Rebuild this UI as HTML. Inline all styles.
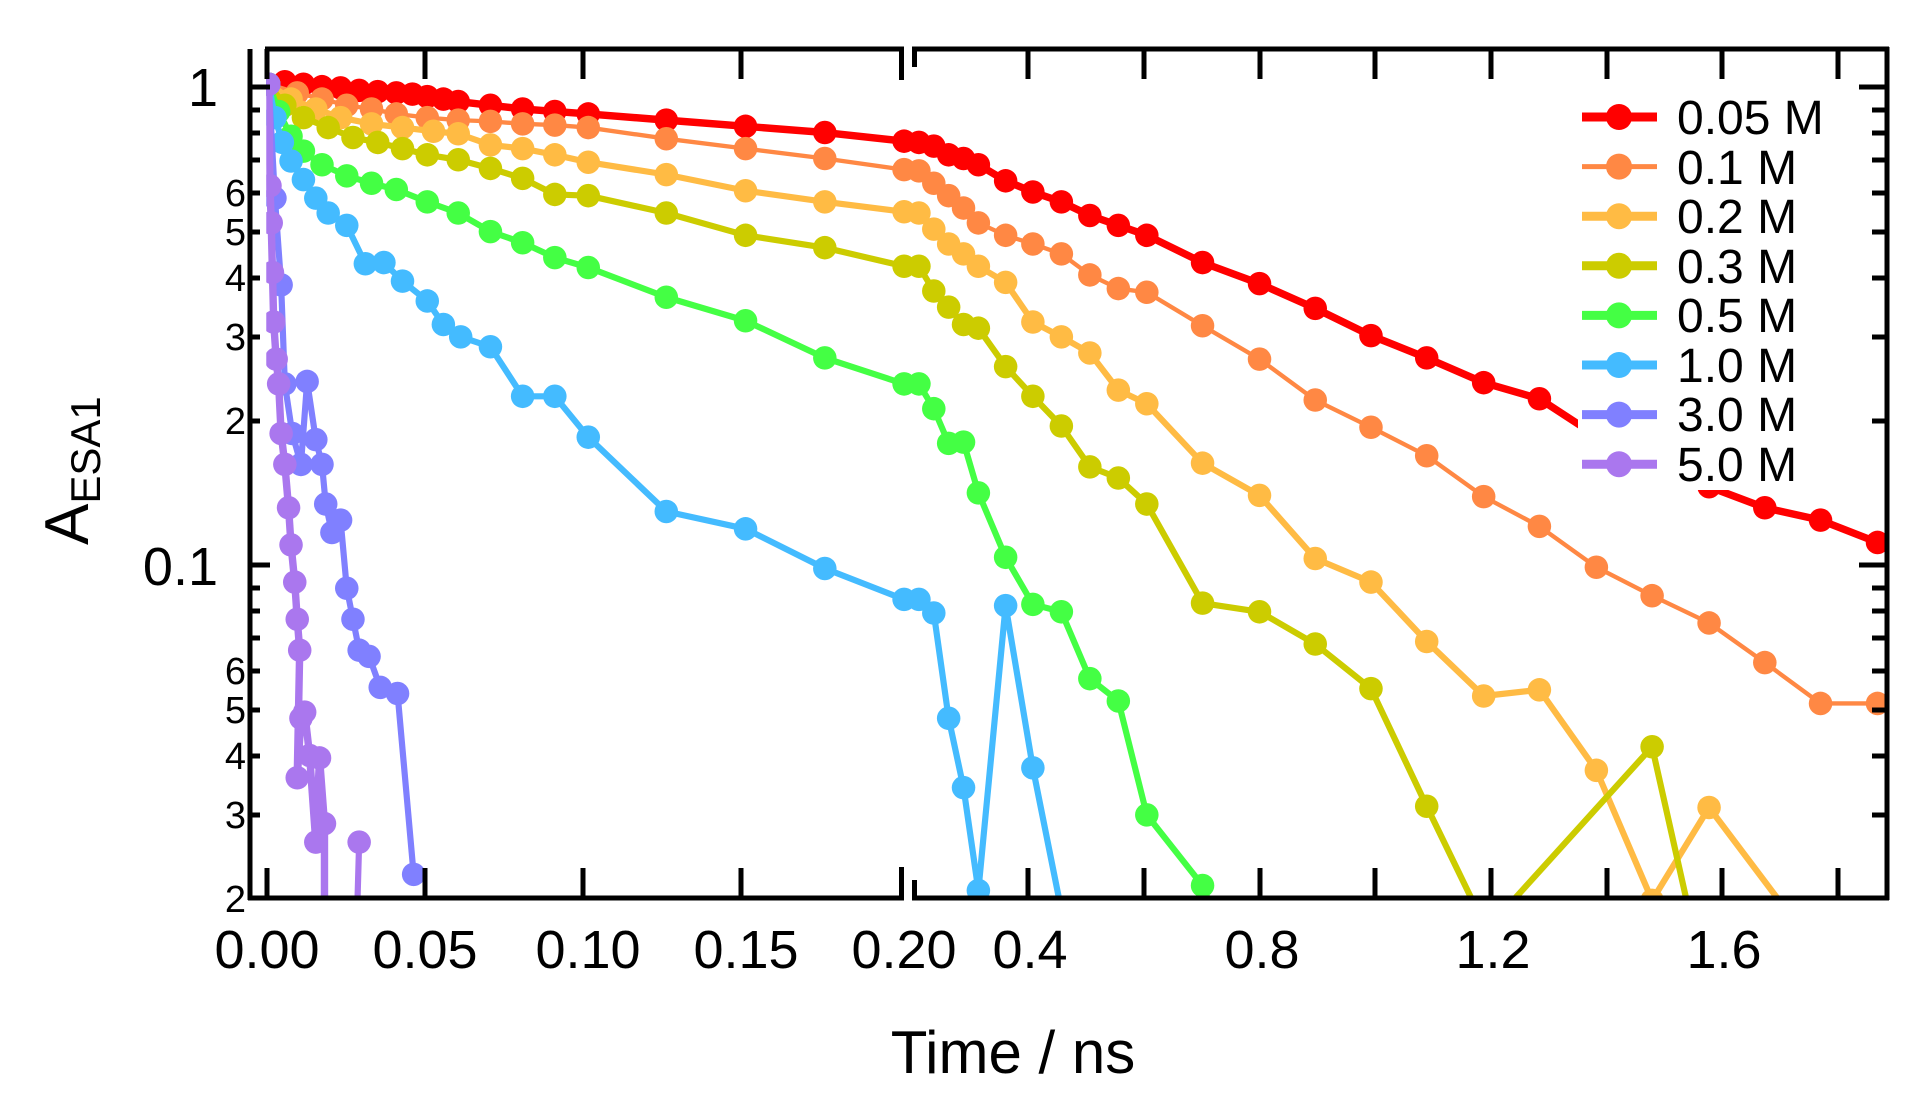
<!DOCTYPE html>
<html><head><meta charset="utf-8"><style>
html,body{margin:0;padding:0;background:#fff;}
svg{display:block;font-family:"Liberation Sans",sans-serif;}
</style></head><body>
<svg width="1932" height="1104" viewBox="0 0 1932 1104" xmlns="http://www.w3.org/2000/svg">
<defs>
<clipPath id="c"><rect x="215" y="30" width="1310" height="696"/></clipPath>
<marker id="m1" markerUnits="userSpaceOnUse" markerWidth="24" markerHeight="24" refX="12" refY="12" overflow="visible"><circle cx="12" cy="12" r="9.5" fill="#FF0000"/></marker>
<marker id="m2" markerUnits="userSpaceOnUse" markerWidth="24" markerHeight="24" refX="12" refY="12" overflow="visible"><circle cx="12" cy="12" r="9.5" fill="#FF8844"/></marker>
<marker id="m3" markerUnits="userSpaceOnUse" markerWidth="24" markerHeight="24" refX="12" refY="12" overflow="visible"><circle cx="12" cy="12" r="9.5" fill="#FFBB44"/></marker>
<marker id="m4" markerUnits="userSpaceOnUse" markerWidth="24" markerHeight="24" refX="12" refY="12" overflow="visible"><circle cx="12" cy="12" r="9.5" fill="#CCCC00"/></marker>
<marker id="m5" markerUnits="userSpaceOnUse" markerWidth="24" markerHeight="24" refX="12" refY="12" overflow="visible"><circle cx="12" cy="12" r="9.5" fill="#44FF44"/></marker>
<marker id="m6" markerUnits="userSpaceOnUse" markerWidth="24" markerHeight="24" refX="12" refY="12" overflow="visible"><circle cx="12" cy="12" r="9.5" fill="#44BBFF"/></marker>
<marker id="m7" markerUnits="userSpaceOnUse" markerWidth="24" markerHeight="24" refX="12" refY="12" overflow="visible"><circle cx="12" cy="12" r="9.5" fill="#8080FF"/></marker>
<marker id="m8" markerUnits="userSpaceOnUse" markerWidth="24" markerHeight="24" refX="12" refY="12" overflow="visible"><circle cx="12" cy="12" r="9.5" fill="#AA77EE"/></marker>
</defs>
<g transform="scale(1.23846)" clip-path="url(#c)" stroke-linejoin="round" stroke-linecap="round" fill="none">
<polyline stroke="#FF0000" stroke-width="6" marker-start="url(#m1)" marker-mid="url(#m1)" marker-end="url(#m1)" points="217,68 230,66 245,68 260,70 275,71 290,73 305,74 320,75 333,76 345,78 358,80 370,82 396,85 422,88 448,90 475,92 538,97 602,102 666,107 730,114 742,115 754,118 766,125 778,128 790,133 812,146 834,155 857,163 880,174 903,182 926,190 971,212 1017,229 1062,249 1107,271 1152,289 1198,309 1243,322 1289,352 1334,372 1380,393 1425,410 1470,420 1516,438"/>
<polyline stroke="#FF8844" stroke-width="3.5" marker-start="url(#m2)" marker-mid="url(#m2)" marker-end="url(#m2)" points="217,68 240,75 260,80 280,85 300,88 320,92 345,95 370,97 396,98 422,100 448,101 475,103 538,112 602,120 666,128 730,137 742,138 754,148 766,158 778,168 790,180 812,190 834,197 857,205 880,222 903,233 926,236 971,263 1017,290 1062,323 1107,345 1152,368 1198,401 1243,425 1289,458 1334,481 1380,503 1425,535 1470,568 1516,568"/>
<polyline stroke="#FFBB44" stroke-width="5" marker-start="url(#m3)" marker-mid="url(#m3)" marker-end="url(#m3)" points="217,68 235,80 255,88 275,95 300,100 325,103 350,106 370,108 396,117 422,120 448,125 475,131 538,141 602,154 666,163 730,171 742,172 754,185 766,197 778,205 790,215 812,228 834,260 857,272 880,285 903,315 926,326 971,374 1017,400 1062,451 1107,470 1152,518 1198,562 1243,557 1289,622 1334,727 1380,652 1450,745"/>
<polyline stroke="#CCCC00" stroke-width="5" marker-start="url(#m4)" marker-mid="url(#m4)" marker-end="url(#m4)" points="217,68 230,85 245,95 265,103 285,111 305,115 325,120 345,125 370,129 396,136 422,144 448,157 475,158 538,172 602,190 666,200 730,215 742,215 754,235 766,248 778,262 790,265 812,296 834,320 857,344 880,377 903,386 926,407 971,487 1017,494 1062,520 1107,556 1152,651 1200,750 1201,750 1334,603 1367,750"/>
<polyline stroke="#44FF44" stroke-width="5" marker-start="url(#m5)" marker-mid="url(#m5)" marker-end="url(#m5)" points="217,68 225,90 235,110 245,122 260,133 280,142 300,148 320,153 345,163 370,172 396,187 422,196 448,208 475,216 538,240 602,259 666,289 730,310 742,310 754,330 766,358 778,357 790,398 812,450 834,488 857,494 880,548 903,566 926,658 971,715 985,750"/>
<polyline stroke="#44BBFF" stroke-width="5" marker-start="url(#m6)" marker-mid="url(#m6)" marker-end="url(#m6)" points="217,68 222,95 228,115 235,130 245,145 255,160 265,172 280,182 295,213 310,212 325,227 345,243 358,262 372,272 396,280 422,320 448,320 475,353 538,413 602,427 666,459 730,484 742,484 754,495 766,580 778,636 790,719 812,489 834,620 860,750"/>
<polyline stroke="#8080FF" stroke-width="5" marker-start="url(#m7)" marker-mid="url(#m7)" marker-end="url(#m7)" points="217,68 222,160 227,230 230,310 236,350 243,375 248,308 255,355 260,375 263,407 268,430 275,420 280,475 285,500 290,525 298,530 307,555 321,560 334,706"/>
<polyline stroke="#AA77EE" stroke-width="6" marker-start="url(#m8)" marker-mid="url(#m8)" marker-end="url(#m8)" points="217,68 218,150 219,180 220,220 221,260 223,290 225,310 227,350 230,375 233,410 235,440 238,470 240,500 242,525 240,628 243,580 246,575 250,610 255,680 258,612 262,665 262,750"/>
<polyline stroke="#AA77EE" stroke-width="5" marker-start="url(#m8)" marker-end="url(#m8)" points="290,680 288,750"/>
</g>
<rect x="1578" y="92" width="260" height="398" fill="#fff"/>
<g stroke="#000" stroke-width="5" fill="none">
<line x1="250" y1="49" x2="250" y2="900"/>
<line x1="248" y1="898" x2="904" y2="898"/>
<line x1="912" y1="898" x2="1889" y2="898"/>
<line x1="265" y1="49" x2="904" y2="49"/>
<line x1="912" y1="49" x2="1889" y2="49"/>
<line x1="1887" y1="47" x2="1887" y2="900"/>
<line x1="901.5" y1="47" x2="901.5" y2="80"/>
<line x1="914.5" y1="47" x2="914.5" y2="67"/>
<line x1="901.5" y1="867" x2="901.5" y2="900"/>
<line x1="914.5" y1="880" x2="914.5" y2="900"/>
<path d="M267 49v30M425 49v30M583 49v30M741 49v30M267 898v-30M425 898v-30M583 898v-30M741 898v-30
M1028 49v30M1144 49v30M1260 49v30M1375 49v30M1491 49v30M1607 49v30M1722 49v30M1838 49v30
M1028 898v-30M1144 898v-30M1260 898v-30M1375 898v-30M1491 898v-30M1607 898v-30M1722 898v-30M1838 898v-30
M1887 87h-28M1887 565h-28
M1887 110h-15M1887 133h-15M1887 160h-15M1887 193h-15M1887 232h-15M1887 278h-15M1887 337h-15M1887 421h-15
M1887 588h-15M1887 611h-15M1887 638h-15M1887 671h-15M1887 710h-15M1887 756h-15M1887 815h-15
M250 87h20M250 565h20
M250 110h10M250 133h10M250 160h10M250 193h10M250 232h10M250 278h10M250 337h10M250 421h10
M250 588h10M250 611h10M250 638h10M250 671h10M250 710h10M250 756h10M250 815h10"/>
</g>
<g font-size="54" text-anchor="end" fill="#000">
<text x="218" y="106">1</text>
<text x="218" y="585">0.1</text>
</g>
<g font-size="38" text-anchor="end" fill="#000">
<text x="246" y="206">6</text><text x="246" y="245">5</text><text x="246" y="291">4</text><text x="246" y="350">3</text><text x="246" y="434">2</text>
<text x="246" y="684">6</text><text x="246" y="723">5</text><text x="246" y="769">4</text><text x="246" y="828">3</text><text x="246" y="912">2</text>
</g>
<g font-size="54" text-anchor="middle" fill="#000">
<text x="267" y="968">0.00</text><text x="425" y="968">0.05</text><text x="588" y="968">0.10</text><text x="746" y="968">0.15</text><text x="904" y="968">0.20</text>
<text x="1030" y="968">0.4</text><text x="1262" y="968">0.8</text><text x="1493" y="968">1.2</text><text x="1724" y="968">1.6</text>
</g>
<text x="1013" y="1073" font-size="60" text-anchor="middle">Time / ns</text>
<text transform="translate(88,545) rotate(-90)" font-size="62">A<tspan font-size="42" dy="12">ESA1</tspan></text>
<g font-size="48" fill="#000">
<text x="1677" y="134">0.05 M</text><text x="1677" y="184">0.1 M</text><text x="1677" y="233">0.2 M</text><text x="1677" y="283">0.3 M</text>
<text x="1677" y="332">0.5 M</text><text x="1677" y="382">1.0 M</text><text x="1677" y="431">3.0 M</text><text x="1677" y="481">5.0 M</text>
</g>
<g>
<line x1="1582" y1="117" x2="1657" y2="117" stroke="#FF0000" stroke-width="9"/><circle cx="1619" cy="117" r="13" fill="#FF0000"/>
<line x1="1582" y1="166.6" x2="1657" y2="166.6" stroke="#FF8844" stroke-width="5"/><circle cx="1619" cy="166.6" r="13" fill="#FF8844"/>
<line x1="1582" y1="216.2" x2="1657" y2="216.2" stroke="#FFBB44" stroke-width="9"/><circle cx="1619" cy="216.2" r="13" fill="#FFBB44"/>
<line x1="1582" y1="265.8" x2="1657" y2="265.8" stroke="#CCCC00" stroke-width="9"/><circle cx="1619" cy="265.8" r="13" fill="#CCCC00"/>
<line x1="1582" y1="315.4" x2="1657" y2="315.4" stroke="#44FF44" stroke-width="9"/><circle cx="1619" cy="315.4" r="13" fill="#44FF44"/>
<line x1="1582" y1="365" x2="1657" y2="365" stroke="#44BBFF" stroke-width="9"/><circle cx="1619" cy="365" r="13" fill="#44BBFF"/>
<line x1="1582" y1="414.6" x2="1657" y2="414.6" stroke="#8080FF" stroke-width="9"/><circle cx="1619" cy="414.6" r="13" fill="#8080FF"/>
<line x1="1582" y1="464.2" x2="1657" y2="464.2" stroke="#AA77EE" stroke-width="9"/><circle cx="1619" cy="464.2" r="13" fill="#AA77EE"/>
</g>
</svg>
</body></html>
